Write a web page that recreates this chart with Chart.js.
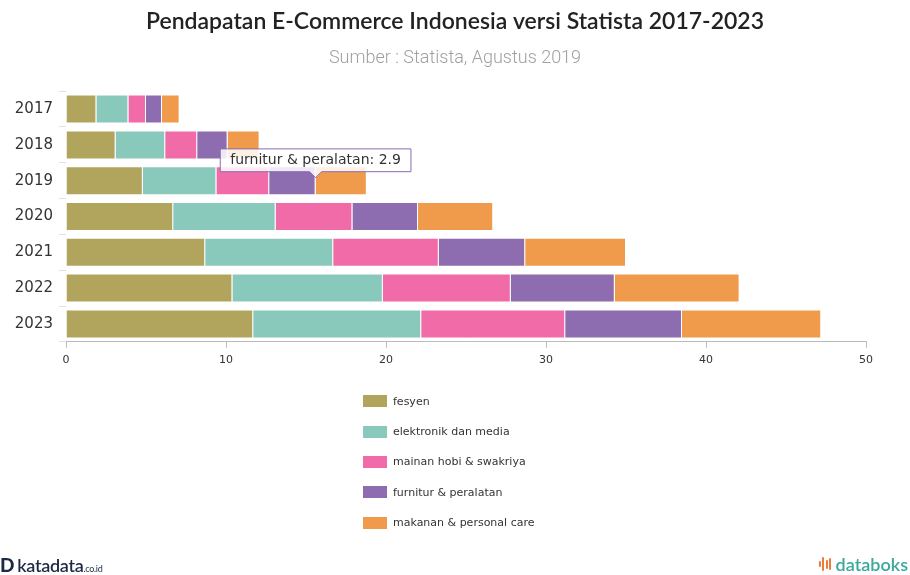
<!DOCTYPE html>
<html>
<head>
<meta charset="utf-8">
<script src="https://cdn.jsdelivr.net/npm/chart.js@4"></script>
<style>
  html, body { margin: 0; padding: 0; background: #fff; }
  #wrap { position: relative; width: 910px; height: 575px; overflow: hidden; }
  #chart { position: absolute; left: 0; top: 0; }
  #legend { position: absolute; left: 363px; top: 386px; margin: 0; padding: 0; list-style: none;
            font: 11px "DejaVu Sans", Verdana, sans-serif; color: #333; }
  #legend li { height: 30.4px; display: flex; align-items: center; }
  #legend span.box { display: inline-block; width: 24px; height: 12px; margin-right: 6px; }
  #kata { position: absolute; left: 0; top: 553px; font: 600 18px "Lato", sans-serif; color: #1e2a45; letter-spacing: -0.3px; }
  #kata b { font: 900 19px "Lato", sans-serif; margin-right: 3px; }
  #kata small { font-size: 9px; font-weight: 400; }
  #boks { position: absolute; right: 2px; top: 553px; font: 600 18px "Lato", sans-serif; color: #3aa99c; display: flex; align-items: center; }
  #boks .ico { display: inline-flex; align-items: center; height: 18px; margin-right: 3px; }
  #boks .ico span { display: inline-block; width: 2px; background: #f07a3a; margin-right: 1.5px; border-radius: 1px; }
</style>
</head>
<body>
<div id="wrap">
  <canvas id="chart" width="910" height="575"></canvas>
  <ul id="legend"></ul>
  <div id="kata"><b>D</b>katadata<small>.co.id</small></div>
  <div id="boks"><span class="ico"><span style="height:6px"></span><span style="height:14px"></span><span style="height:9px"></span><span style="height:12px"></span></span>databoks</div>
</div>
<script>
  // data kategori per tahun (triliun rupiah)
  const years      = ['2017', '2018', '2019', '2020', '2021', '2022', '2023'];
  const fesyen     = [1.9, 3.1, 4.8, 6.7, 8.7, 10.4, 11.7];
  const elektronik = [2.0, 3.1, 4.6, 6.4, 8.0, 9.4, 10.5];
  const mainan     = [1.1, 2.0, 3.3, 4.8, 6.6, 8.0, 9.0];
  const furnitur   = [1.0, 1.9, 2.9, 4.1, 5.4, 6.5, 7.3];
  const makanan    = [1.1, 2.0, 3.2, 4.7, 6.3, 7.8, 8.7];
  const xTicks     = [0, 10, 20, 30, 40, 50];

  const seriesNames  = ['fesyen', 'elektronik dan media', 'mainan hobi & swakriya',
                        'furnitur & peralatan', 'makanan & personal care'];
  const seriesValues = [fesyen, elektronik, mainan, furnitur, makanan];
  const seriesColors = ['#b1a55e', '#89c9bc', '#f06ba7', '#8d6cb0', '#f09a4b'];

  // tooltip diletakkan di ujung kanan batang
  Chart.Tooltip.positioners.barEnd = function(items) {
    if (!items.length) return false;
    const el = items[0].element;
    return { x: el.x, y: el.y - 3 };
  };

  const ctx = document.getElementById('chart').getContext('2d');
  const chart = new Chart(ctx, {
    type: 'bar',
    data: {
      labels: years,
      datasets: seriesNames.map((name, i) => ({
        label: name,
        data: seriesValues[i],
        backgroundColor: seriesColors[i],
        borderColor: 'rgba(255,255,255,0.3)',
        borderWidth: 1,
        categoryPercentage: 0.9,
        barPercentage: 0.9
      }))
    },
    options: {
      indexAxis: 'y',
      responsive: false,
      animation: false,
      layout: { padding: { left: 0, right: 0, top: 0, bottom: 202 } },
      plugins: {
        legend: { display: false },
        title: {
          display: true,
          text: 'Pendapatan E-Commerce Indonesia versi Statista 2017-2023',
          color: '#222',
          font: { family: 'Lato', size: 23, weight: '600' },
          padding: { top: 8, bottom: 12 }
        },
        subtitle: {
          display: true,
          text: 'Sumber : Statista, Agustus 2019',
          color: '#a0a0a0',
          font: { family: 'Roboto', size: 18, weight: '300' },
          padding: { top: 0, bottom: 22 }
        },
        tooltip: {
          enabled: true,
          position: 'barEnd',
          yAlign: 'bottom',
          xAlign: 'center',
          backgroundColor: 'rgba(255,255,255,0.85)',
          borderColor: '#8d6cb0',
          borderWidth: 1,
          cornerRadius: 0,
          caretSize: 6,
          caretPadding: 0,
          displayColors: false,
          padding: { top: 3, bottom: 3, left: 10, right: 10 },
          bodyColor: '#333',
          bodyFont: { family: 'DejaVu Sans', size: 14 },
          callbacks: {
            title: () => '',
            label: c => c.dataset.label + ': ' + c.parsed.x
          }
        }
      },
      scales: {
        x: {
          stacked: true,
          min: 0,
          max: 50,
          afterBuildTicks: scale => { scale.ticks = xTicks.map(v => ({ value: v })); },
          grid: { drawOnChartArea: false, drawTicks: true, tickLength: 6, color: '#bbb' },
          border: { color: '#bbb' },
          ticks: { color: '#333', padding: 6, font: { family: 'DejaVu Sans', size: 11 } }
        },
        y: {
          stacked: true,
          afterFit: scale => { scale.width = 66; },
          grid: { drawOnChartArea: false, drawTicks: true, tickLength: 7, color: '#e0e0e0' },
          border: { display: false },
          ticks: { color: '#333', padding: 6, font: { family: 'DejaVu Sans', size: 15 } }
        },
        // sumbu kosong di kanan, hanya untuk margin kanan
        yRight: {
          axis: 'y',
          type: 'category',
          position: 'right',
          afterFit: scale => { scale.width = 44; },
          grid: { display: false },
          border: { display: false },
          ticks: { display: false }
        }
      }
    }
  });

  // tampilkan tooltip seperti di gambar: furnitur 2019
  const target = chart.getDatasetMeta(3).data[2];
  chart.tooltip.setActiveElements([{ datasetIndex: 3, index: 2 }], { x: target.x, y: target.y });
  chart.update();

  // legenda vertikal dari dataset
  const legend = document.getElementById('legend');
  chart.data.datasets.forEach(ds => {
    const li = document.createElement('li');
    li.innerHTML = '<span class="box" style="background:' + ds.backgroundColor + '"></span>' + ds.label;
    legend.appendChild(li);
  });
</script>
</body>
</html>
